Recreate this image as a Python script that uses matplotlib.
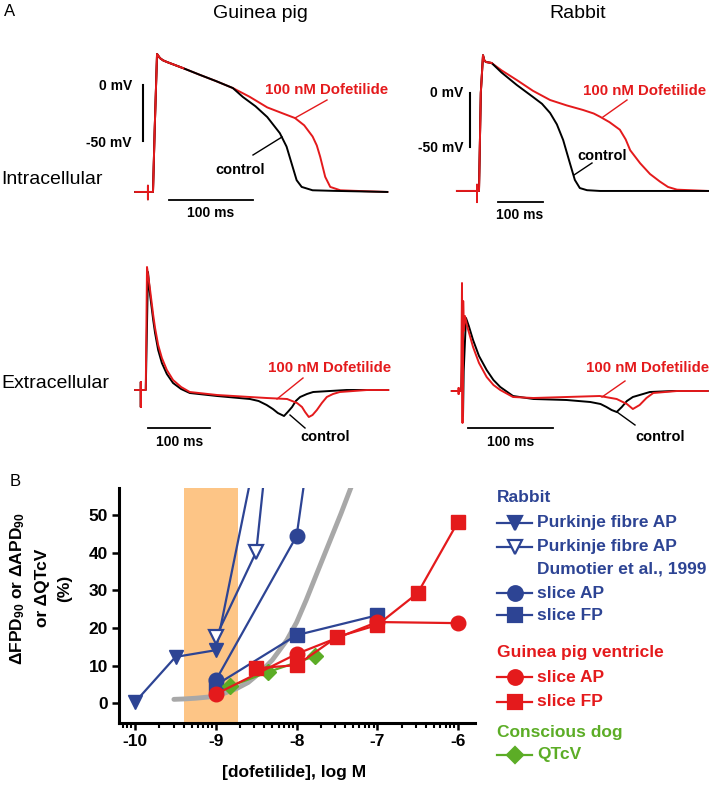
import numpy as np
import matplotlib
matplotlib.use("Agg")
import matplotlib.pyplot as plt

plt.rcParams['font.family'] = ['Liberation Sans', 'DejaVu Sans']
plt.rcParams['mathtext.fontset'] = 'custom'
plt.rcParams['mathtext.rm'] = 'Liberation Sans:bold'
plt.rcParams['mathtext.default'] = 'rm'
plt.rcParams['axes.unicode_minus'] = False

# ---- panel A traces (t in ms from upstroke, V in mV / extracellular in a.u.) ----
gp_ic_t_ctrl = [-21, -6, -6, -6, -6, 0, 2, 4.8, 8.3, 12, 16.7, 36, 56, 75, 95, 107, 122, 136, 151, 159, 165, 171, 177, 190, 214, 279]
gp_ic_v_ctrl = [-95.5, -95.5, -90, -102, -95.5, -95.5, -40, 27.7, 24, 22, 20.5, 15, 9, 3.5, -2.7, -10.7, -19, -28.6, -43, -55, -70, -85, -91, -94, -94.5, -95.5]
gp_ic_t_dof = [-21, -6, -6, -6, -6, 0, 2, 4.8, 8.3, 12, 16.7, 36, 56, 75, 95, 115, 136, 155, 169, 180, 190, 195, 199, 205, 211, 223, 240, 279]
gp_ic_v_dof = [-95.5, -95.5, -90, -102, -95.5, -95.5, -40, 27.7, 24, 22, 20.5, 15, 9, 3.5, -2.7, -10.5, -20, -25.5, -29.5, -36, -46, -54, -64, -82, -91, -94, -94.5, -95.5]

rb_ic_t_ctrl = [-49, -4.4, -4.4, -4.4, -4.4, 0, 4, 8.9, 12, 15.6, 28, 50, 84, 120, 140, 158, 173, 187, 202, 213, 224, 240, 269, 509]
rb_ic_v_ctrl = [-90.7, -90.7, -85, -101, -90.7, -90.7, 0, 35, 30, 28.7, 27.8, 19, 7.4, -3.7, -10, -18.5, -29, -43.5, -65, -80.5, -88, -90, -90.7, -90.7]
rb_ic_t_dof = [-49, -4.4, -4.4, -4.4, -4.4, 0, 4, 8.9, 12, 15.6, 28, 50, 84, 120, 158, 195, 231, 255, 269, 290, 313, 326, 336, 358, 380, 402, 420, 440, 509]
rb_ic_v_dof = [-90.7, -90.7, -85, -101, -90.7, -90.7, 0, 35, 30, 28.7, 27.8, 21, 12, 2, -6.5, -11.5, -15.7, -19, -22, -27, -34, -43, -53, -65, -75, -82, -87, -89.5, -90.7]

gp_ec_t_ctrl = [-19, -10, -10, -10, -10, -2, 1.6, 5, 10, 13, 18, 24, 32, 42, 55, 69, 113, 166, 180, 193, 203, 211, 221, 227, 234, 240, 247, 258, 268, 322, 389]
gp_ec_v_ctrl = [0, 0, 8, -17, 0, 0, 118, 95, 70, 57, 40, 27, 16, 7, 1, -3, -6, -9, -11, -15, -19, -23, -26, -22, -17, -11, -7, -4, -2, 0, 0]
gp_ec_t_dof = [-19, -10, -10, -10, -10, -2, 0, 5, 10, 13, 18, 24, 32, 42, 55, 69, 113, 166, 193, 226, 242, 250, 255, 261, 267, 274, 282, 290, 300, 311, 355, 389]
gp_ec_v_dof = [0, 0, 8, -17, 0, 0, 123, 100, 75, 62, 45, 32, 20, 10, 3, -2, -5, -7, -8, -9, -13, -17, -22, -27, -25, -20, -13, -7, -4, -2, 0, 0]

rb_ec_t_ctrl = [-12, -1, 0.5, 1.2, 2, 4.7, 8, 13, 20, 29, 37, 45, 60, 84, 123, 151, 163, 170, 176, 182, 188, 194, 201, 221, 248, 289]
rb_ec_v_ctrl = [0, 0, 40, -25, 20, 73, 65, 51, 35, 21, 11, 4, -5, -8, -9, -11, -13, -16, -19, -21, -16, -10, -6, -1, 0, 0]
rb_ec_t_dof = [-12, -4, -4, -4, -4, -1, 0, 0.6, 1.4, 2.2, 3.5, 6, 13, 20, 29, 37, 45, 60, 84, 123, 162, 182, 194, 201, 209, 217, 225, 253, 289]
rb_ec_v_dof = [0, 0, 3, -3, 0, 0, 108, -32, 90, 60, 75, 65, 44, 28, 14, 6, 1, -6, -7, -6, -5, -8, -13, -18, -14, -7, -2, 0, 0]

# ---- panel B concentration-response (log M, % change) ----
pf_x = [-10, -9.5, -9, -8.5]
pf_y = [0.3, 12.3, 14.1, 67]
pf_dum_x = [-9, -8.5, -8]
pf_dum_y = [17.6, 40.3, 142]
rb_ap_x = [-9, -8, -7]
rb_ap_y = [6.1, 44.5, 196]
rb_fp_x = [-9, -8, -7]
rb_fp_y = [4.8, 18.1, 23.4]
gp_ap_x = [-9, -8, -7, -6]
gp_ap_y = [2.4, 13.1, 21.6, 21.3]
gp_fp_x = [-8.5, -8, -7.5, -7, -6.5, -6]
gp_fp_y = [9.3, 10.1, 17.6, 20.8, 29.3, 48.3]
dog_x = [-8.82, -8.35, -7.77]
dog_y = [4.5, 8.3, 12.5]
fit_x = [-9.52, -9.4, -9.25, -9.1, -9.0, -8.9, -8.75, -8.6, -8.46, -8.3, -8.12, -8.0, -7.88, -7.75, -7.6, -7.45, -7.32]
fit_y = [1.0, 1.1, 1.3, 1.6, 2.0, 2.6, 3.8, 5.5, 8.0, 11.5, 16.8, 21.5, 27.5, 34.5, 42.5, 50.5, 57.8]
safe_lo, safe_hi = -9.4, -8.73
xticks = [-10, -9, -8, -7, -6]
yticks = [0, 10, 20, 30, 40, 50]

BLUE = '#2D4494'
RED = '#E41A1C'
GREEN = '#5CAD26'
GRAY = '#A8A8A8'
ORANGE = '#FDC586'

W, H = 709, 787
fig = plt.figure(figsize=(W / 100, H / 100), dpi=100)


def px_rect(x0, y0, x1, y1):
    return [x0 / W, 1 - y1 / H, (x1 - x0) / W, (y1 - y0) / H]


def trace_ax(x0, y0, x1, y1, xt0, sx, yv0, sy):
    ax = fig.add_axes(px_rect(x0, y0, x1, y1))
    ax.set_xlim((x0 - xt0) / sx, (x1 - xt0) / sx)
    ax.set_ylim((yv0 - y1) / sy, (yv0 - y0) / sy)
    ax.axis('off')
    return ax


tlw = 1.4
ax1 = trace_ax(100, 40, 400, 225, 153, 0.84, 85, 1.12)
ax1.plot(gp_ic_t_dof, gp_ic_v_dof, color=RED, lw=tlw)
ax1.plot(gp_ic_t_ctrl, gp_ic_v_ctrl, color='black', lw=tlw)
ax1.plot(gp_ic_t_dof[:12], gp_ic_v_dof[:12], color=RED, lw=tlw)
ax1.plot([19, 119], [-102.7, -102.7], color='black', lw=1.3)
ax1.plot([-11.9, -11.9], [0, -50], color='black', lw=1.5)

ax2 = trace_ax(440, 40, 709, 225, 479, 0.45, 93, 1.08)
ax2.plot(rb_ic_t_dof, rb_ic_v_dof, color=RED, lw=tlw)
ax2.plot(rb_ic_t_ctrl, rb_ic_v_ctrl, color='black', lw=tlw)
ax2.plot(rb_ic_t_dof[:11], rb_ic_v_dof[:11], color=RED, lw=tlw)
ax2.plot([42, 142], [-101, -101], color='black', lw=1.3)
ax2.plot([-20, -20], [0, -50], color='black', lw=1.5)

ax3 = trace_ax(100, 255, 400, 440, 147, 0.62, 390, 1.0)
ax3.plot(gp_ec_t_ctrl, gp_ec_v_ctrl, color='black', lw=tlw)
ax3.plot(gp_ec_t_dof, gp_ec_v_dof, color=RED, lw=tlw)
ax3.plot([1.6, 101.6], [-38, -38], color='black', lw=1.3)

ax4 = trace_ax(440, 255, 709, 440, 462, 0.85, 391, 1.0)
ax4.plot(rb_ec_t_ctrl, rb_ec_v_ctrl, color='black', lw=tlw)
ax4.plot(rb_ec_t_dof, rb_ec_v_dof, color=RED, lw=tlw)
ax4.plot([7, 107], [-37, -37], color='black', lw=1.3)

# ---- panel B ----
ax = fig.add_axes(px_rect(119, 488, 475, 723))
ax.set_xlim(-10.2, -5.79)
ax.set_ylim(-5.3, 57.3)
ax.axvspan(safe_lo, safe_hi, color=ORANGE, lw=0, zorder=0)
ax.plot(fit_x, fit_y, color=GRAY, lw=3.5, solid_capstyle='round', zorder=1)
lw = 1.6
ax.plot(pf_x, pf_y, color=BLUE, lw=lw, marker='v', ms=10, zorder=3)
ax.plot(pf_dum_x, pf_dum_y, color=BLUE, lw=lw, marker='v', ms=10, mfc='white', mew=1.6, zorder=3)
ax.plot(rb_fp_x, rb_fp_y, color=BLUE, lw=lw, marker='s', ms=9.5, zorder=3)
ax.plot(rb_ap_x, rb_ap_y, color=BLUE, lw=lw, marker='o', ms=10.5, zorder=3)
ax.plot(dog_x, dog_y, color=GREEN, lw=lw, marker='D', ms=8, zorder=3)
ax.plot(gp_fp_x, gp_fp_y, color=RED, lw=lw, marker='s', ms=9.5, zorder=4)
ax.plot(gp_ap_x, gp_ap_y, color=RED, lw=lw, marker='o', ms=10.5, zorder=4)

for s in ['top', 'right']:
    ax.spines[s].set_visible(False)
for s in ['left', 'bottom']:
    ax.spines[s].set_linewidth(2.2)
ax.set_xticks(xticks)
ax.set_yticks(yticks)
minors = [d + np.log10(k) for d in range(-11, -6) for k in range(2, 10)]
ax.set_xticks([m for m in minors if -10.2 <= m <= -5.79], minor=True)
ax.tick_params(axis='both', which='major', length=5, width=1.8, labelsize=12.5, pad=3)
ax.tick_params(axis='x', which='minor', length=3.5, width=1.5)
for lab in ax.get_xticklabels() + ax.get_yticklabels():
    lab.set_fontweight('bold')

# ---- overlay for texts, pointers and legend (pixel coordinates) ----
ov = fig.add_axes([0, 0, 1, 1], zorder=10)
ov.set_xlim(0, W)
ov.set_ylim(H, 0)
ov.axis('off')

ov.text(10, 12, 'A', fontsize=12, va='center', ha='center')
ov.text(15, 482, 'B', fontsize=12, va='center', ha='center')
ov.text(260, 13, 'Guinea pig', fontsize=14, ha='center', va='center')
ov.text(578, 13, 'Rabbit', fontsize=14, ha='center', va='center')
ov.text(1, 180, 'Intracellular', fontsize=14, ha='left', va='center')
ov.text(1, 383, 'Extracellular', fontsize=14, ha='left', va='center')

bk = dict(fontsize=10, fontweight='bold', va='center')
ov.text(132, 86, '0 mV', ha='right', **bk)
ov.text(132, 143, '-50 mV', ha='right', **bk)
ov.text(463, 93, '0 mV', ha='right', **bk)
ov.text(463, 148, '-50 mV', ha='right', **bk)
ov.text(211, 213, '100 ms', ha='center', **bk)
ov.text(520, 215, '100 ms', ha='center', **bk)
ov.text(180, 442, '100 ms', ha='center', **bk)
ov.text(511, 442, '100 ms', ha='center', **bk)

rd = dict(fontsize=10.8, fontweight='bold', va='center', ha='center', color=RED)
ov.text(327, 90, '100 nM Dofetilide', **rd)
ov.plot([327, 295], [100, 118], color=RED, lw=1)
ov.text(645, 91, '100 nM Dofetilide', **rd)
ov.plot([627, 603], [100, 117], color=RED, lw=1)
ov.text(330, 368, '100 nM Dofetilide', **rd)
ov.plot([303, 277], [378, 399], color=RED, lw=1)
ov.text(648, 368, '100 nM Dofetilide', **rd)
ov.plot([625, 602], [381, 397], color=RED, lw=1)

ck = dict(fontsize=10.5, fontweight='bold', va='center', ha='center', color='black')
ov.text(240, 170, 'control', **ck)
ov.plot([253, 282], [155, 137], color='black', lw=1)
ov.text(602, 156, 'control', **ck)
ov.plot([592, 574], [163, 175], color='black', lw=1)
ov.text(325, 437, 'control', **ck)
ov.plot([290, 305], [415, 428], color='black', lw=1)
ov.text(660, 437, 'control', **ck)
ov.plot([617, 635], [412, 425], color='black', lw=1)

yl = dict(fontsize=12.5, fontweight='bold', rotation=90, ha='center', va='center')
ov.text(18, 589, r'ΔFPD$_{90}$ or ΔAPD$_{90}$', **yl)
ov.text(43, 588, 'or ΔQTcV', **yl)
ov.text(65, 588, '(%)', **yl)
ov.text(294, 772, '[dofetilide], log M', fontsize=12.5, fontweight='bold', ha='center', va='center')

# legend
lt = dict(fontsize=12.5, fontweight='bold', va='center', ha='left')
ov.text(497, 498, 'Rabbit', color=BLUE, **lt)
ov.text(497, 652, 'Guinea pig ventricle', color=RED, **lt)
ov.text(497, 732, 'Conscious dog', color=GREEN, **lt)
entries = [
    (523, BLUE, 'v', BLUE, 10, 'Purkinje fibre AP'),
    (547, BLUE, 'v', 'white', 10, 'Purkinje fibre AP'),
    (593, BLUE, 'o', BLUE, 10.5, 'slice AP'),
    (615, BLUE, 's', BLUE, 9.5, 'slice FP'),
    (677, RED, 'o', RED, 10.5, 'slice AP'),
    (702, RED, 's', RED, 9.5, 'slice FP'),
    (755, GREEN, 'D', GREEN, 8, 'QTcV'),
]
for y, c, m, fc, ms, label in entries:
    ov.plot([497, 514.5, 532], [y, y, y], color=c, lw=1.6, marker=m, ms=ms,
            mfc=fc, mew=1.6, markevery=[1])
    ov.text(537, y, label, color=c, **lt)
ov.text(537, 569, 'Dumotier et al., 1999', color=BLUE, **lt)

fig.savefig('out.png', dpi=100)
